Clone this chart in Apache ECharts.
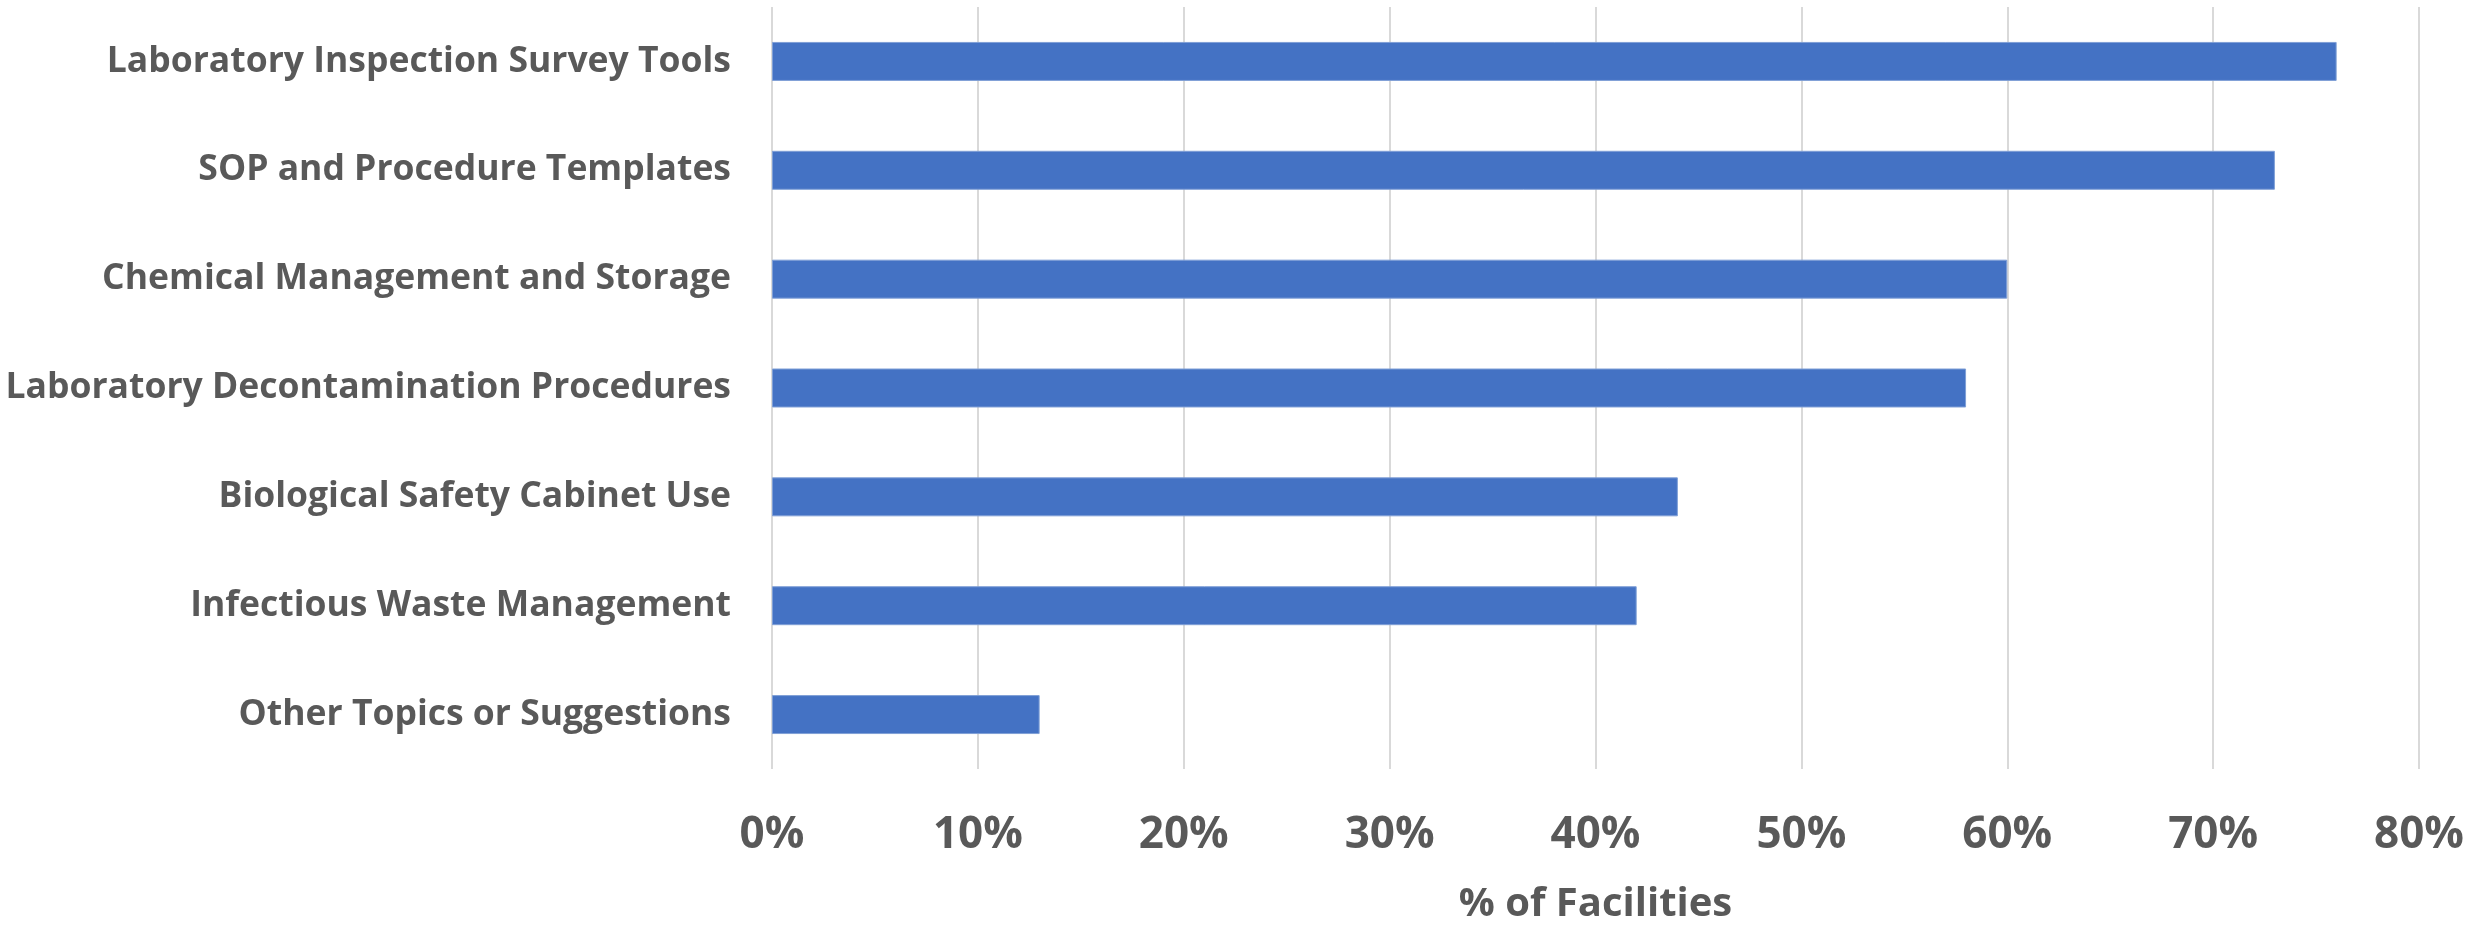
<!DOCTYPE html>
<html>
<head>
<meta charset="utf-8">
<script src="https://cdn.jsdelivr.net/npm/echarts@6/dist/echarts.min.js"></script>
<style>
html,body{margin:0;padding:0;background:#fff;}
#chart{width:2483px;height:930px;}
</style>
</head>
<body>
<div id="chart"></div>
<script>
var categories = [
  "Laboratory Inspection Survey Tools",
  "SOP and Procedure Templates",
  "Chemical Management and Storage",
  "Laboratory Decontamination Procedures",
  "Biological Safety Cabinet Use",
  "Infectious Waste Management",
  "Other Topics or Suggestions"
];
var values = [76, 73, 60, 58, 44, 42, 13];
var xTicks = [0, 10, 20, 30, 40, 50, 60, 70, 80];
var axisTitle = "% of Facilities";

var chart = echarts.init(document.getElementById('chart'));
chart.setOption({
  animation: false,
  backgroundColor: '#ffffff',
  grid: { left: 772, right: 64, top: 7, bottom: 150, containLabel: false },
  xAxis: {
    type: 'value',
    min: xTicks[0],
    max: xTicks[xTicks.length - 1],
    interval: 10,
    name: axisTitle,
    nameLocation: 'middle',
    nameGap: 116,
    nameTextStyle: { fontFamily: 'Open Sans', fontWeight: 'bold', fontSize: 40, color: '#595959' },
    axisLine: { show: false },
    axisTick: { show: false },
    splitLine: { show: true, lineStyle: { color: '#d9d9d9', width: 2 } },
    axisLabel: {
      fontFamily: 'Open Sans', fontWeight: 'bold', fontSize: 44, color: '#595959',
      margin: 44,
      formatter: function (v) { return v + '%'; }
    }
  },
  yAxis: {
    type: 'category',
    data: categories,
    inverse: true,
    axisLine: { show: false },
    axisTick: { show: false },
    splitLine: { show: false },
    axisLabel: {
      fontFamily: 'Open Sans', fontWeight: 'bold', fontSize: 35.5, color: '#595959',
      margin: 41,
      verticalAlign: 'middle',
      padding: [12, 0, 0, 0]
    }
  },
  series: [{
    type: 'bar',
    data: values,
    barWidth: '35.8%',
    itemStyle: { color: '#4472C4', borderColor: '#7f9fd6', borderWidth: 1 }
  }]
});
</script>
</body>
</html>
